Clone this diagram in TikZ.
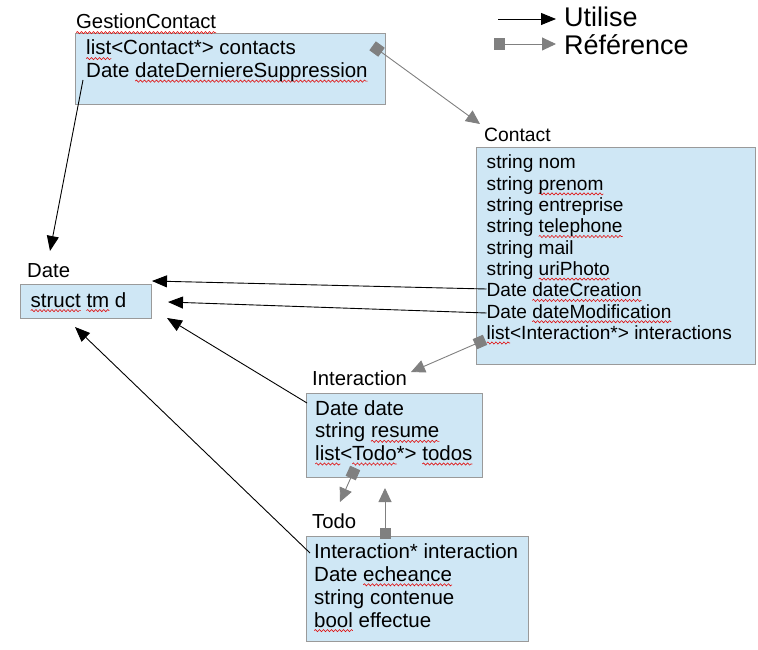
\documentclass[tikz,border=0pt]{standalone}
\usepackage{fontspec}
\setmainfont{Liberation Sans}
\usetikzlibrary{arrows.meta,decorations.pathmorphing}
\definecolor{boxfill}{HTML}{CFE7F5}
\definecolor{boxline}{HTML}{9A9A9A}
\definecolor{refgray}{HTML}{808080}
\definecolor{wavered}{HTML}{E01010}
\newsavebox\sqbox
\newcommand\sq[1]{\sbox\sqbox{#1}\rlap{\tikz[overlay]\draw[wavered, line width=0.6pt, decorate, decoration={snake, amplitude=1.1pt, segment length=4pt}] (0pt,-3.6pt) -- (\wd\sqbox,-3.6pt);}#1}
\tikzset{
  box/.style={draw=boxline, fill=boxfill, line width=1pt, inner sep=0pt, anchor=north west},
  txt/.style={inner sep=0pt, anchor=base west, font=\fontsize{20.5}{23}\selectfont},
  txtc/.style={inner sep=0pt, anchor=base west, font=\fontsize{19.1}{22}\selectfont},
  ttl/.style={inner sep=0pt, anchor=base west, font=\fontsize{20.3}{23}\selectfont},
  leg/.style={inner sep=0pt, anchor=base west, font=\fontsize{27}{30}\selectfont},
  uses/.style={draw=black, line width=0.9pt, -{Triangle[length=15pt,width=12pt]}},
  refs/.style={draw=refgray, line width=0.9pt, {Square[length=11pt,width=11pt]}-{Triangle[length=14pt,width=13pt]}},
}
\begin{document}
\begin{tikzpicture}[x=1pt,y=-1pt]
\useasboundingbox (0,0) rectangle (758,650);
% boxes
\node[box, minimum width=310pt, minimum height=71pt] (gc) at (75,33) {};
\node[box, minimum width=279pt, minimum height=217pt] (contact) at (476,147) {};
\node[box, minimum width=131pt, minimum height=34pt] (date) at (20,284) {};
\node[box, minimum width=176pt, minimum height=84pt] (inter) at (306,393) {};
\node[box, minimum width=222pt, minimum height=105pt] (todo) at (306,536) {};
% titles
\node[ttl] (gcT) at (76,29) {\sq{GestionContact}};
\node[ttl, font=\fontsize{19.3}{22}\selectfont] (contactT) at (484,142) {Contact};
\node[ttl] (dateT) at (27,277) {Date};
\node[ttl] (interT) at (312,385) {Interaction};
\node[ttl] (todoT) at (312,528) {Todo};
% GestionContact
\node[txt] (gc1) at (86,55) {\sq{list}<Contact*> contacts};
\node[txt] (gc2) at (86,77.5) {Date \sq{dateDerniereSuppression}};
% Contact
\node[txtc] (c1) at (486.5,169) {string nom};
\node[txtc] (c2) at (486.5,190.3) {string \sq{prenom}};
\node[txtc] (c3) at (486.5,211.6) {string entreprise};
\node[txtc] (c4) at (486.5,232.9) {string \sq{telephone}};
\node[txtc] (c5) at (486.5,254.2) {string mail};
\node[txtc] (c6) at (486.5,275.5) {string \sq{uriPhoto}};
\node[txtc] (c7) at (486.5,296.8) {Date \sq{dateCreation}};
\node[txtc] (c8) at (486.5,318.1) {Date \sq{dateModification}};
\node[txtc] (c9) at (486.5,339.4) {\sq{list}<Interaction*> interactions};
% Date
\node[txt] (d1) at (30.5,307) {\sq{struct} \sq{tm} d};
% Interaction
\node[txt] (i1) at (315,415) {Date date};
\node[txt] (i2) at (315,437.7) {string \sq{resume}};
\node[txt] (i3) at (315,460.4) {\sq{list}<\sq{Todo}*> \sq{todos}};
% Todo
\node[txt] (t1) at (314,558.3) {Interaction* interaction};
\node[txt] (t2) at (314,581.2) {Date \sq{echeance}};
\node[txt] (t3) at (314,604.1) {string contenue};
\node[txt] (t4) at (314,627) {\sq{bool} effectue};
% legend
\coordinate (lu1) at (498,19);
\coordinate (lu2) at (556,19);
\draw[uses] (lu1) -- (lu2);
\coordinate (lr1) at (493.5,44);
\coordinate (lr2) at (556,44);
\draw[refs] (lr1) -- (lr2);
\node[leg] (legU) at (564,27) {Utilise};
\node[leg] (legR) at (564,55) {Référence};
% uses connectors
\coordinate (gcD) at (83,80);
\coordinate (dA1) at (50,251);
\draw[uses] (gcD) -- (dA1);
\coordinate (cD1) at (486.5,289);
\coordinate (dA2) at (152,281);
\draw[uses] (cD1) -- (dA2);
\coordinate (cD2) at (486.5,313);
\coordinate (dA3) at (168,302);
\draw[uses] (cD2) -- (dA3);
\coordinate (iD) at (307,403);
\coordinate (dA4) at (167,318);
\draw[uses] (iD) -- (dA4);
\coordinate (tD) at (310,553);
\coordinate (dA5) at (75,327);
\draw[uses] (tD) -- (dA5);
% reference connectors
\coordinate (gcC) at (372.6,45.8);
\coordinate (cA) at (480,124);
\draw[refs] (gcC) -- (cA);
\coordinate (cI) at (485,339.8);
\coordinate (iA) at (411,372);
\draw[refs] (cI) -- (iA);
\coordinate (iT) at (355.2,468);
\coordinate (tA) at (340,502);
\draw[refs] (iT) -- (tA);
\coordinate (tI) at (385,538.5);
\coordinate (iA2) at (385,488);
\draw[refs] (tI) -- (iA2);
\end{tikzpicture}
\end{document}
